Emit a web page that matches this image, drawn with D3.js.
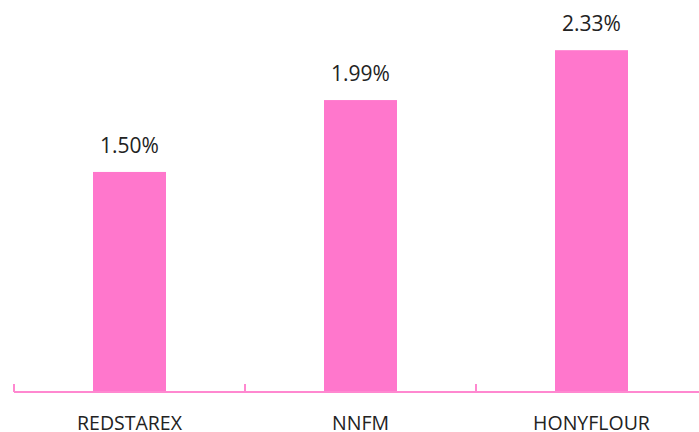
<!DOCTYPE html>
<html>
<head>
<meta charset="utf-8">
<script src="https://cdn.jsdelivr.net/npm/d3@7"></script>
<style>
  body { margin: 0; background: #fff; }
  text { font-family: "Open Sans", sans-serif; fill: #222; }
</style>
</head>
<body>
<div id="plot"></div>
<script>
const width = 699;
const height = 432;

// data
const categories = ["REDSTAREX", "NNFM", "HONYFLOUR"];
const values = [1.50, 1.99, 2.33];

const svg = d3.select("#plot").append("svg")
    .attr("width", width)
    .attr("height", height);

const xScl = d3.scaleBand()
    .domain(categories)
    .range([14, 707])
    .paddingInner(0.684)
    .paddingOuter(0.342);

const yScl = d3.scaleLinear()
    .domain([0, 2.5])
    .range([392, 25.25]);

// bars
svg.selectAll("rect.bar")
    .data(values)
    .enter()
    .append("rect")
    .attr("class", "bar")
    .attr("x", (d, i) => xScl(categories[i]))
    .attr("y", d => yScl(d))
    .attr("width", xScl.bandwidth())
    .attr("height", d => yScl(0) - yScl(d))
    .attr("fill", "#ff77cc");

// value labels
svg.selectAll("text.val")
    .data(values)
    .enter()
    .append("text")
    .attr("class", "val")
    .attr("x", (d, i) => xScl(categories[i]) + xScl.bandwidth() / 2)
    .attr("y", d => yScl(d) - 19)
    .attr("text-anchor", "middle")
    .style("font-size", "21px")
    .text(d => d.toFixed(2) + "%");

// axis line with upward ticks at band boundaries
const step = xScl.step();
const bounds = d3.range(categories.length + 1).map(i => 14 + i * step);

const axis = svg.append("g").attr("class", "axis");
axis.append("line")
    .attr("x1", 14).attr("x2", 707)
    .attr("y1", yScl(0)).attr("y2", yScl(0))
    .attr("stroke", "#ff88d0")
    .attr("stroke-width", 2);
axis.selectAll("line.tick")
    .data(bounds)
    .enter()
    .append("line")
    .attr("class", "tick")
    .attr("x1", d => d).attr("x2", d => d)
    .attr("y1", yScl(0)).attr("y2", yScl(0) - 8)
    .attr("stroke", "#ff88d0")
    .attr("stroke-width", 2);

// category labels
svg.selectAll("text.cat")
    .data(categories)
    .enter()
    .append("text")
    .attr("class", "cat")
    .attr("x", d => xScl(d) + xScl.bandwidth() / 2)
    .attr("y", 430)
    .attr("text-anchor", "middle")
    .style("font-size", "19.5px")
    .text(d => d);
</script>
</body>
</html>
